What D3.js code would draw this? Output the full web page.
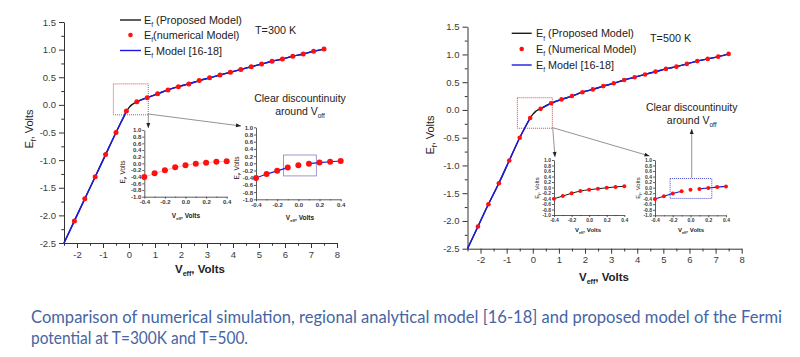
<!DOCTYPE html>
<html><head><meta charset="utf-8">
<script src="https://cdn.jsdelivr.net/npm/d3@7"></script>
<style>body{margin:0;background:#fff}svg{display:block}</style>
</head><body><svg id="c" width="800" height="357"></svg>
<script>
// ---------- DATA ----------
const vEff = [-2.1,-1.7,-1.3,-0.9,-0.5,-0.1,0.3,0.7,1.1,1.5,1.9,2.3,2.7,3.1,3.5,3.9,4.3,4.7,5.1,5.5,5.9,6.3,6.7,7.1,7.5];
const efNum300 = [-2.1,-1.7,-1.3,-0.9,-0.5,-0.11,0.055,0.13,0.2,0.27,0.33,0.38,0.44,0.49,0.54,0.59,0.64,0.69,0.74,0.79,0.83,0.88,0.92,0.97,1.01];
const efNum500 = [-2.1,-1.7,-1.32,-0.91,-0.5,-0.145,0.02,0.12,0.19,0.25,0.32,0.37,0.43,0.48,0.54,0.59,0.64,0.69,0.74,0.78,0.83,0.88,0.92,0.96,1.01];

const propV = [-2.5,-2.1,-1.7,-1.3,-0.9,-0.5,-0.3,-0.2,-0.1,0,0.1,0.2,0.3,0.5,0.7,1.1,1.5,1.9,2.3,2.7,3.1,3.5,3.9,4.3,4.7,5.1,5.5,5.9,6.3,6.7,7.1,7.5];
const efProp300 = [-2.5,-2.1,-1.7,-1.3,-0.9,-0.5,-0.31,-0.22,-0.12,-0.05,0.0,0.03,0.055,0.1,0.13,0.2,0.27,0.33,0.38,0.44,0.49,0.54,0.59,0.64,0.69,0.74,0.79,0.83,0.88,0.92,0.97,1.01];
const efProp500 = [-2.5,-2.1,-1.7,-1.32,-0.91,-0.5,-0.32,-0.23,-0.145,-0.08,-0.03,0.0,0.02,0.08,0.12,0.19,0.25,0.32,0.37,0.43,0.48,0.54,0.59,0.64,0.69,0.74,0.78,0.83,0.88,0.92,0.96,1.01];

const modelLowV = [-2.5,-2.1,-1.7,-1.3,-0.9,-0.5,-0.1];
const efModelLow300 = [-2.5,-2.1,-1.7,-1.3,-0.9,-0.5,-0.11];
const efModelLow500 = [-2.5,-2.1,-1.7,-1.32,-0.91,-0.5,-0.145];
const modelHighV = [0.3,0.7,1.1,1.5,1.9,2.3,2.7,3.1,3.5,3.9,4.3,4.7,5.1,5.5,5.9,6.3,6.7,7.1,7.5];
const efModelHigh300 = [0.055,0.13,0.2,0.27,0.33,0.38,0.44,0.49,0.54,0.59,0.64,0.69,0.74,0.79,0.83,0.88,0.92,0.97,1.01];
const efModelHigh500 = [0.02,0.12,0.19,0.25,0.32,0.37,0.43,0.48,0.54,0.59,0.64,0.69,0.74,0.78,0.83,0.88,0.92,0.96,1.01];

const insetV = [-0.4,-0.3,-0.2,-0.1,0,0.1,0.2,0.3,0.4];
const insetNum300 = [-0.41,-0.3,-0.21,-0.12,-0.055,-0.01,0.02,0.045,0.065];
const insetNum500 = [-0.41,-0.31,-0.21,-0.13,-0.08,-0.045,-0.01,0.02,0.045];
const insetModelLowV = [-0.4,-0.3,-0.2,-0.1];
const insetModelHighV = [0.1,0.2,0.3,0.4];
const insetModelLow300 = [-0.41,-0.3,-0.21,-0.12];
const insetModelHigh300 = [-0.01,0.02,0.045,0.065];
const insetModelLow500 = [-0.41,-0.31,-0.21,-0.13];
const insetModelHigh500 = [-0.045,-0.01,0.02,0.045];

const mainXTicks = [-2,-1,0,1,2,3,4,5,6,7,8];
const mainXMinor = [-2.5,-1.5,-0.5,0.5,1.5,2.5,3.5,4.5,5.5,6.5,7.5];
const mainYTicks = [-2.5,-2,-1.5,-1,-0.5,0,0.5,1,1.5];
const mainYMinor = [-2.25,-1.75,-1.25,-0.75,-0.25,0.25,0.75,1.25];
const insetXTicks = [-0.4,-0.2,0,0.2,0.4];
const insetXMinor = [-0.3,-0.1,0.1,0.3];
const insetYTicks = [-1,-0.8,-0.6,-0.4,-0.2,0,0.2,0.4,0.6,0.8,1];

const caption1 = "Comparison of numerical simulation, regional analytical model [16-18] and proposed model of the Fermi";
const caption2 = "potential at T=300K and T=500.";

// ---------- HELPERS ----------
const svg = d3.select('#c');
svg.append('rect').attr('width',800).attr('height',357).attr('fill','#fff');
const FONT = "Liberation Sans, Arial, sans-serif";
const zip = (a,b) => a.map((v,i)=>[v,b[i]]);
const fmt1 = d => (Math.abs(d)<1e-9?0:d).toFixed(1);
const fmt0 = d => String(d);

function rich(parent, x, y, parts, size, anchor, extra){
  const t = parent.append('text').attr('x',x).attr('y',y).attr('font-size',size)
    .attr('font-family',FONT).attr('text-anchor',anchor||'start').attr('fill','#222');
  if (extra) Object.entries(extra).forEach(([k,v])=>t.attr(k,v));
  let shifted = false;
  parts.forEach(([s,sub])=>{
    const ts = t.append('tspan').text(s);
    if (sub){ ts.attr('font-size', size*0.62); if(!shifted){ ts.attr('dy', size*0.3); shifted=true; } }
    else if (shifted){ ts.attr('dy', -size*0.3); shifted=false; }
  });
  return t;
}

function axes(g, x, y, o){
  g.append('g').attr('transform',`translate(0,${y.range()[0]})`)
    .call(d3.axisBottom(x).tickValues(o.xt).tickFormat(o.fx).tickSize(o.tick).tickSizeOuter(0).tickPadding(o.pad));
  g.append('g').attr('transform',`translate(0,${y.range()[0]})`)
    .call(d3.axisBottom(x).tickValues(o.xm).tickFormat('').tickSize(o.tick*0.55).tickSizeOuter(0))
    .call(s=>s.select('.domain').remove());
  g.append('g').attr('transform',`translate(${x.range()[0]},0)`)
    .call(d3.axisLeft(y).tickValues(o.yt).tickFormat(o.fy).tickSize(o.tick).tickSizeOuter(0).tickPadding(o.pad));
  if (o.ym) g.append('g').attr('transform',`translate(${x.range()[0]},0)`)
    .call(d3.axisLeft(y).tickValues(o.ym).tickFormat('').tickSize(o.tick*0.55).tickSizeOuter(0))
    .call(s=>s.select('.domain').remove());
  g.selectAll('.domain, .tick line').attr('stroke','#333').attr('stroke-width',o.sw);
  g.selectAll('.tick text').attr('font-family',FONT).attr('font-size',o.fs).attr('fill','#3a3a3a')
    .attr('font-weight',o.bold?'bold':'normal');
}

function arrow(g, x1,y1,x2,y2,color){
  g.append('line').attr('x1',x1).attr('y1',y1).attr('x2',x2).attr('y2',y2)
    .attr('stroke',color).attr('stroke-width',0.8);
  const a = Math.atan2(y2-y1,x2-x1), L=5, W=2;
  const p = [[x2,y2],[x2-L*Math.cos(a)+W*Math.sin(a), y2-L*Math.sin(a)-W*Math.cos(a)],
             [x2-L*Math.cos(a)-W*Math.sin(a), y2-L*Math.sin(a)+W*Math.cos(a)]];
  g.append('path').attr('d','M'+p.join('L')+'Z').attr('fill','#222');
}

const BLUE = '#1a1ae6', RED = '#ff1010', BLACK = '#1a1a1a';

function drawPanel(P){
  const g = svg.append('g');
  const x = d3.scaleLinear().domain([-2.5,8]).range(P.xr);
  const y = d3.scaleLinear().domain([-2.5,1.5]).range(P.yr);
  axes(g, x, y, {xt:mainXTicks, xm:mainXMinor, yt:mainYTicks, ym:mainYMinor, fx:fmt0, fy:fmt1, tick:5, pad:3, fs:9.5, sw:1});
  const line = d3.line().x(d=>x(d[0])).y(d=>y(d[1])).curve(d3.curveMonotoneX);
  g.append('path').attr('d',line(zip(propV,P.prop))).attr('fill','none').attr('stroke',BLACK).attr('stroke-width',1.4);
  g.append('path').attr('d',line(zip(modelLowV,P.low))).attr('fill','none').attr('stroke',BLUE).attr('stroke-width',1.4);
  g.append('path').attr('d',line(zip(modelHighV,P.high))).attr('fill','none').attr('stroke',BLUE).attr('stroke-width',1.4);
  g.selectAll('.dot').data(zip(vEff,P.num)).join('circle')
    .attr('cx',d=>x(d[0])).attr('cy',d=>y(d[1])).attr('r',P.r).attr('fill',RED);
  g.append('rect').attr('x',x(P.box[0])).attr('y',y(P.box[3]))
    .attr('width',x(P.box[1])-x(P.box[0])).attr('height',y(P.box[2])-y(P.box[3]))
    .attr('fill','none').attr('stroke','#e03030').attr('stroke-width',0.9).attr('stroke-dasharray','1,1');
  const L = P.leg;
  g.append('line').attr('x1',L.x0).attr('x2',L.x1).attr('y1',L.rows[0]).attr('y2',L.rows[0]).attr('stroke',BLACK).attr('stroke-width',1.4);
  g.append('circle').attr('cx',(L.x0+L.x1)/2).attr('cy',L.rows[1]).attr('r',2.3).attr('fill',RED);
  g.append('line').attr('x1',L.x0).attr('x2',L.x1).attr('y1',L.rows[2]).attr('y2',L.rows[2]).attr('stroke',BLUE).attr('stroke-width',1.4);
  P.legText.forEach((txt,i)=>rich(g, L.tx, L.rows[i]+4, [['E',false],['f',true],[txt,false]], 10.8));
  g.append('text').attr('x',P.tLab[0]).attr('y',P.tLab[1]).attr('font-family',FONT).attr('font-size',10.8).attr('fill','#222').text(P.tText);
  rich(g, P.xl[0], P.xl[1], [['V',false],['eff',true],[', Volts',false]], 11.5, 'middle', {'font-weight':'bold'});
  rich(g, 0, 0, [['E',false],['f',true],[', Volts',false]], 11, 'middle', {transform:`translate(${P.yl[0]},${P.yl[1]}) rotate(-90)`});
  g.append('text').attr('x',P.ann[0]).attr('y',P.ann[1]).attr('text-anchor','middle').attr('font-family',FONT).attr('font-size',10.5).attr('fill','#222').text('Clear discountinuity');
  rich(g, P.ann[0], P.ann[2], [['around V',false],['off',true]], 10.5, 'middle');
  P.arrows.forEach(a=>arrow(g, ...a, '#777'));
  P.insets.forEach(I=>drawInset(g, I));
}

function drawInset(parent, I){
  const g = parent.append('g');
  const x = d3.scaleLinear().domain([-0.4,0.4]).range(I.xr);
  const y = d3.scaleLinear().domain([-1,1]).range(I.yr);
  axes(g, x, y, {xt:insetXTicks, xm:insetXMinor, yt:insetYTicks, ym:null, fx:fmt1, fy:fmt1, tick:2, pad:1, fs:I.fs, sw:0.8, bold:true});
  const line = d3.line().x(d=>x(d[0])).y(d=>y(d[1]));
  if (I.box){
    g.append('rect').attr('x',x(I.box[0])).attr('y',y(I.box[3]))
      .attr('width',x(I.box[1])-x(I.box[0])).attr('height',y(I.box[2])-y(I.box[3]))
      .attr('fill','none').attr('stroke',I.boxColor).attr('stroke-width',I.boxW).attr('stroke-dasharray',I.boxDash||null);
  }
  if (I.type==='num') g.append('path').attr('d',line(zip(insetV,I.num))).attr('fill','none').attr('stroke','#f2a0a0').attr('stroke-width',0.7);
  if (I.type==='prop') g.append('path').attr('d',d3.line().x(d=>x(d[0])).y(d=>y(d[1])).curve(d3.curveMonotoneX)(zip(insetV,I.num))).attr('fill','none').attr('stroke',BLACK).attr('stroke-width',1);
  if (I.type==='model'){
    g.append('path').attr('d',line(zip(insetModelLowV,I.low))).attr('fill','none').attr('stroke',BLUE).attr('stroke-width',1.1);
    g.append('path').attr('d',line(zip(insetModelHighV,I.high))).attr('fill','none').attr('stroke',BLUE).attr('stroke-width',1.1);
  }
  g.selectAll('.dot').data(zip(insetV,I.num)).join('circle')
    .attr('cx',d=>x(d[0])).attr('cy',d=>y(d[1])).attr('r',I.r).attr('fill',RED);
  rich(g, I.xl[0], I.xl[1], [['V',false],['eff',true],[', Volts',false]], I.ls, 'middle', {'font-weight':'bold'});
  rich(g, 0, 0, [['E',false],['f',true],[', Volts',false]], I.ls, 'middle', {transform:`translate(${I.yl[0]},${I.yl[1]}) rotate(-90)`});
}

// ---------- PANELS ----------
drawPanel({
  xr:[64,337], yr:[243,22], prop:efProp300, low:efModelLow300, high:efModelHigh300, num:efNum300, r:2.5,
  box:[-0.6,0.74,-0.18,0.38],
  leg:{x0:120,x1:141,tx:144,rows:[20,35,50.5]},
  legText:[' (Proposed Model)','(numerical Model)',' Model [16-18]'],
  tLab:[255,33.5], tText:'T=300 K',
  xl:[200,273], yl:[33,129],
  ann:[300,101.5,115],
  arrows:[[148.3,114,148.3,128],[148.3,114,241,126]],
  insets:[
    {xr:[144.3,226.7], yr:[196.7,130], type:'num', num:insetNum300, r:3, fs:6, ls:6.5, xl:[186,218], yl:[125,172]},
    {xr:[256,340.7], yr:[199.3,127.3], type:'model', num:insetNum300, low:insetModelLow300, high:insetModelHigh300, r:3, fs:6, ls:6.5, xl:[300,220], yl:[239,168],
     box:[-0.14,0.17,-0.35,0.23], boxColor:'#8f90c8', boxW:0.9}
  ]
});
drawPanel({
  xr:[467.5,741.7], yr:[248.7,26.7], prop:efProp500, low:efModelLow500, high:efModelHigh500, num:efNum500, r:2.3,
  box:[-0.59,0.75,-0.33,0.22],
  leg:{x0:511.7,x1:531.7,tx:536,rows:[33.3,49,65]},
  legText:[' (Proposed Model)',' (Numerical Model)',' Model [16-18]'],
  tLab:[650,42], tText:'T=500 K',
  xl:[604,280.5], yl:[434,135],
  ann:[691.7,110.5,123.5],
  arrows:[[552.7,127.7,555,157],[552.7,127.7,649.5,156],[691.7,178,691.7,129]],
  insets:[
    {xr:[554,624.3], yr:[215,160], type:'prop', num:insetNum500, r:2, fs:5, ls:6, xl:[588,232], yl:[539,188]},
    {xr:[655,726], yr:[215.3,160], type:'model', num:insetNum500, low:insetModelLow500, high:insetModelHigh500, r:2, fs:5, ls:6, xl:[691,232], yl:[640,188],
     box:[-0.23,0.24,-0.39,0.33], boxColor:'#4a4ad0', boxW:1, boxDash:'1,1'}
  ]
});

svg.append('text').attr('x',31).attr('y',323).attr('font-family','Lato, "Open Sans", sans-serif').attr('font-size',16.5)
  .attr('fill','#4565a3').attr('textLength',751).attr('lengthAdjust','spacingAndGlyphs').text(caption1);
svg.append('text').attr('x',31).attr('y',344).attr('font-family','Lato, "Open Sans", sans-serif').attr('font-size',16.5)
  .attr('fill','#4565a3').attr('textLength',217).attr('lengthAdjust','spacingAndGlyphs').text(caption2);
</script></body></html>
